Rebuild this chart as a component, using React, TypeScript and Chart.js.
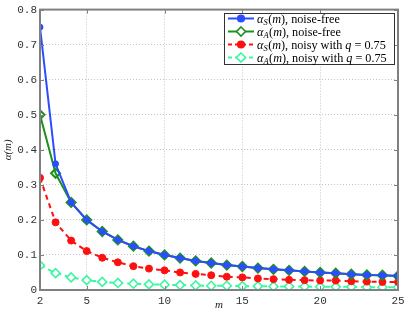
import React, { useEffect, useRef } from "react";
import { Chart, registerables } from "chart.js";

Chart.register(...registerables);

const mValues = [2, 3, 4, 5, 6, 7, 8, 9, 10, 11, 12, 13, 14, 15, 16, 17, 18, 19, 20, 21, 22, 23, 24, 25];
const alphaSFree = [0.75, 0.36, 0.25, 0.2, 0.167, 0.143, 0.125, 0.111, 0.1, 0.091, 0.083, 0.077, 0.071, 0.067, 0.0625, 0.059, 0.056, 0.053, 0.05, 0.048, 0.045, 0.043, 0.042, 0.04];
const alphaAFree = [0.5, 0.333, 0.25, 0.2, 0.167, 0.143, 0.125, 0.111, 0.1, 0.091, 0.083, 0.077, 0.071, 0.067, 0.0625, 0.059, 0.056, 0.053, 0.05, 0.048, 0.045, 0.043, 0.042, 0.04];
const alphaSNoisy = [0.32, 0.193, 0.141, 0.111, 0.092, 0.079, 0.068, 0.061, 0.056, 0.05, 0.046, 0.042, 0.038, 0.036, 0.033, 0.031, 0.029, 0.028, 0.027, 0.027, 0.025, 0.024, 0.023, 0.023];
const alphaANoisy = [0.07, 0.048, 0.036, 0.028, 0.023, 0.02, 0.018, 0.016, 0.015, 0.014, 0.013, 0.012, 0.012, 0.011, 0.011, 0.01, 0.01, 0.01, 0.009, 0.009, 0.009, 0.008, 0.008, 0.008];
const xTicks = [2, 5, 10, 15, 20, 25];
const yTicks = [0, 0.1, 0.2, 0.3, 0.4, 0.5, 0.6, 0.7, 0.8];

const BLUE = "#2b4cff";
const GREEN = "#1c921c";
const RED = "#ff1010";
const MINT = "#3cf7a0";

type Seg = { t: string; it?: boolean; sub?: boolean };
const legendItems: { color: string; dash: number[]; marker: string; filled: boolean; segs: Seg[] }[] = [
  { color: BLUE, dash: [], marker: "circle", filled: true, segs: [{ t: "α", it: true }, { t: "S", it: true, sub: true }, { t: "(" }, { t: "m", it: true }, { t: "), noise-free" }] },
  { color: GREEN, dash: [], marker: "diamond", filled: false, segs: [{ t: "α", it: true }, { t: "A", it: true, sub: true }, { t: "(" }, { t: "m", it: true }, { t: "), noise-free" }] },
  { color: RED, dash: [4, 3], marker: "circle", filled: true, segs: [{ t: "α", it: true }, { t: "S", it: true, sub: true }, { t: "(" }, { t: "m", it: true }, { t: "), noisy with " }, { t: "q", it: true }, { t: " = 0.75" }] },
  { color: MINT, dash: [4, 3], marker: "diamond", filled: false, segs: [{ t: "α", it: true }, { t: "A", it: true, sub: true }, { t: "(" }, { t: "m", it: true }, { t: "), noisy with " }, { t: "q", it: true }, { t: " = 0.75" }] },
];

function drawMarker(ctx: CanvasRenderingContext2D, kind: string, x: number, y: number, color: string, filled: boolean) {
  ctx.save();
  ctx.setLineDash([]);
  ctx.beginPath();
  if (kind === "circle") {
    ctx.arc(x, y, 3.3, 0, Math.PI * 2);
  } else {
    ctx.moveTo(x, y - 4.5);
    ctx.lineTo(x + 4.5, y);
    ctx.lineTo(x, y + 4.5);
    ctx.lineTo(x - 4.5, y);
    ctx.closePath();
  }
  ctx.fillStyle = filled ? color : "#ffffff";
  ctx.fill();
  ctx.strokeStyle = color;
  ctx.lineWidth = 1.6;
  ctx.stroke();
  ctx.restore();
}

const framePlugin = {
  id: "frameLegend",
  afterDraw(chart: any) {
    const ctx: CanvasRenderingContext2D = chart.ctx;
    const { left, right, top, bottom } = chart.chartArea;
    const xs = chart.scales.x;
    const ys = chart.scales.y;
    ctx.save();
    ctx.strokeStyle = "#808080";
    ctx.lineWidth = 1;
    const tl = 4;
    for (const v of xTicks) {
      const px = Math.round(xs.getPixelForValue(v)) + 0.5;
      ctx.beginPath();
      ctx.moveTo(px, bottom);
      ctx.lineTo(px, bottom - tl);
      ctx.moveTo(px, top);
      ctx.lineTo(px, top + tl);
      ctx.stroke();
    }
    for (const v of yTicks) {
      const py = Math.round(ys.getPixelForValue(v)) + 0.5;
      ctx.beginPath();
      ctx.moveTo(left, py);
      ctx.lineTo(left + tl, py);
      ctx.moveTo(right, py);
      ctx.lineTo(right - tl, py);
      ctx.stroke();
    }
    ctx.strokeStyle = "#808080";
    ctx.lineWidth = 2;
    ctx.strokeRect(left, top, right - left, bottom - top);

    const bx = 224, by = 13, bw = 170, bh = 51;
    ctx.fillStyle = "#ffffff";
    ctx.fillRect(bx, by, bw, bh);
    ctx.strokeStyle = "#333333";
    ctx.lineWidth = 1;
    ctx.strokeRect(bx + 0.5, by + 0.5, bw, bh);
    const rows = [18.5, 31.5, 44.5, 57.5];
    legendItems.forEach((it, i) => {
      const y = rows[i];
      ctx.save();
      ctx.strokeStyle = it.color;
      ctx.lineWidth = 2;
      ctx.setLineDash(it.dash);
      ctx.beginPath();
      ctx.moveTo(228, y);
      ctx.lineTo(254, y);
      ctx.stroke();
      ctx.restore();
      drawMarker(ctx, it.marker, 241, y, it.color, it.filled);
      let x = 257;
      ctx.fillStyle = "#000000";
      ctx.textBaseline = "alphabetic";
      ctx.textAlign = "left";
      for (const s of it.segs) {
        const size = s.sub ? 8.5 : 12.2;
        ctx.font = `${s.it ? "italic " : ""}${size}px "Liberation Serif", "DejaVu Serif", serif`;
        const yy = y + 4 + (s.sub ? 2.5 : 0);
        ctx.fillText(s.t, x, yy);
        x += ctx.measureText(s.t).width + (s.sub ? 0.5 : 0);
      }
    });
    ctx.restore();
  },
};

export default function App() {
  const ref = useRef<HTMLCanvasElement | null>(null);
  useEffect(() => {
    document.body.style.margin = "0";
    const canvas = ref.current;
    if (!canvas) return;
    const mk = (d: number[]) => mValues.map((m, i) => ({ x: m, y: d[i] }));
    const chart = new Chart(canvas, {
      type: "line",
      data: {
        datasets: [
          { label: "aS free", data: mk(alphaSFree), borderColor: BLUE, backgroundColor: BLUE, borderWidth: 2, pointStyle: "circle", pointRadius: 3, pointBorderWidth: 1, pointBackgroundColor: BLUE, pointBorderColor: BLUE, tension: 0 },
          { label: "aA free", data: mk(alphaAFree), borderColor: GREEN, backgroundColor: GREEN, borderWidth: 2, pointStyle: "rectRot", pointRadius: 4.5, pointBorderWidth: 2, pointBackgroundColor: "rgba(255,255,255,0)", pointBorderColor: GREEN, tension: 0 },
          { label: "aS noisy", data: mk(alphaSNoisy), borderColor: RED, backgroundColor: RED, borderWidth: 2, borderDash: [5, 4], pointStyle: "circle", pointRadius: 3.5, pointBorderWidth: 1, pointBackgroundColor: RED, pointBorderColor: RED, tension: 0 },
          { label: "aA noisy", data: mk(alphaANoisy), borderColor: MINT, backgroundColor: MINT, borderWidth: 2, borderDash: [5, 4], pointStyle: "rectRot", pointRadius: 4.5, pointBorderWidth: 1.6, pointBackgroundColor: "#ffffff", pointBorderColor: MINT, tension: 0 },
        ],
      },
      options: {
        animation: false,
        responsive: false,
        maintainAspectRatio: false,
        layout: { padding: { left: 0, top: 9, right: 11, bottom: 0 } },
        plugins: { legend: { display: false }, tooltip: { enabled: false } },
        scales: {
          x: {
            type: "linear",
            min: 2,
            max: 25,
            afterBuildTicks: (s: any) => { s.ticks = xTicks.map((v) => ({ value: v })); },
            afterFit: (s: any) => { s.height = 23; },
            grid: { color: "#c4c4c4", lineWidth: 1, drawTicks: false },
            border: { display: false, dash: [1, 2] },
            ticks: { padding: 4, color: "#333", font: { family: "'Liberation Mono', monospace", size: 11 }, maxRotation: 0, autoSkip: false, callback: (v: any) => String(v) },
            title: { display: true, text: "m", color: "#222", padding: { top: 0, bottom: 1 }, font: { family: "'Liberation Serif', serif", style: "italic", size: 11 } },
          },
          y: {
            min: 0,
            max: 0.8,
            afterBuildTicks: (s: any) => { s.ticks = yTicks.map((v) => ({ value: v })); },
            afterFit: (s: any) => { s.width = 40; },
            grid: { color: "#c4c4c4", lineWidth: 1, drawTicks: false },
            border: { display: false, dash: [1, 2] },
            ticks: { padding: 3, color: "#333", font: { family: "'Liberation Mono', monospace", size: 11 }, callback: (v: any) => String(Math.round(v * 10) / 10) },
            title: { display: true, text: "α(m)", color: "#222", padding: { top: 2, bottom: 0 }, font: { family: "'Liberation Serif', serif", style: "italic", size: 11 } },
          },
        },
      },
      plugins: [framePlugin],
    } as any);
    return () => chart.destroy();
  }, []);
  return (
    <div style={{ position: "fixed", left: 0, top: 0, width: 409, height: 313 }}>
      <canvas ref={ref} width={409} height={313} style={{ width: 409, height: 313 }} />
    </div>
  );
}
